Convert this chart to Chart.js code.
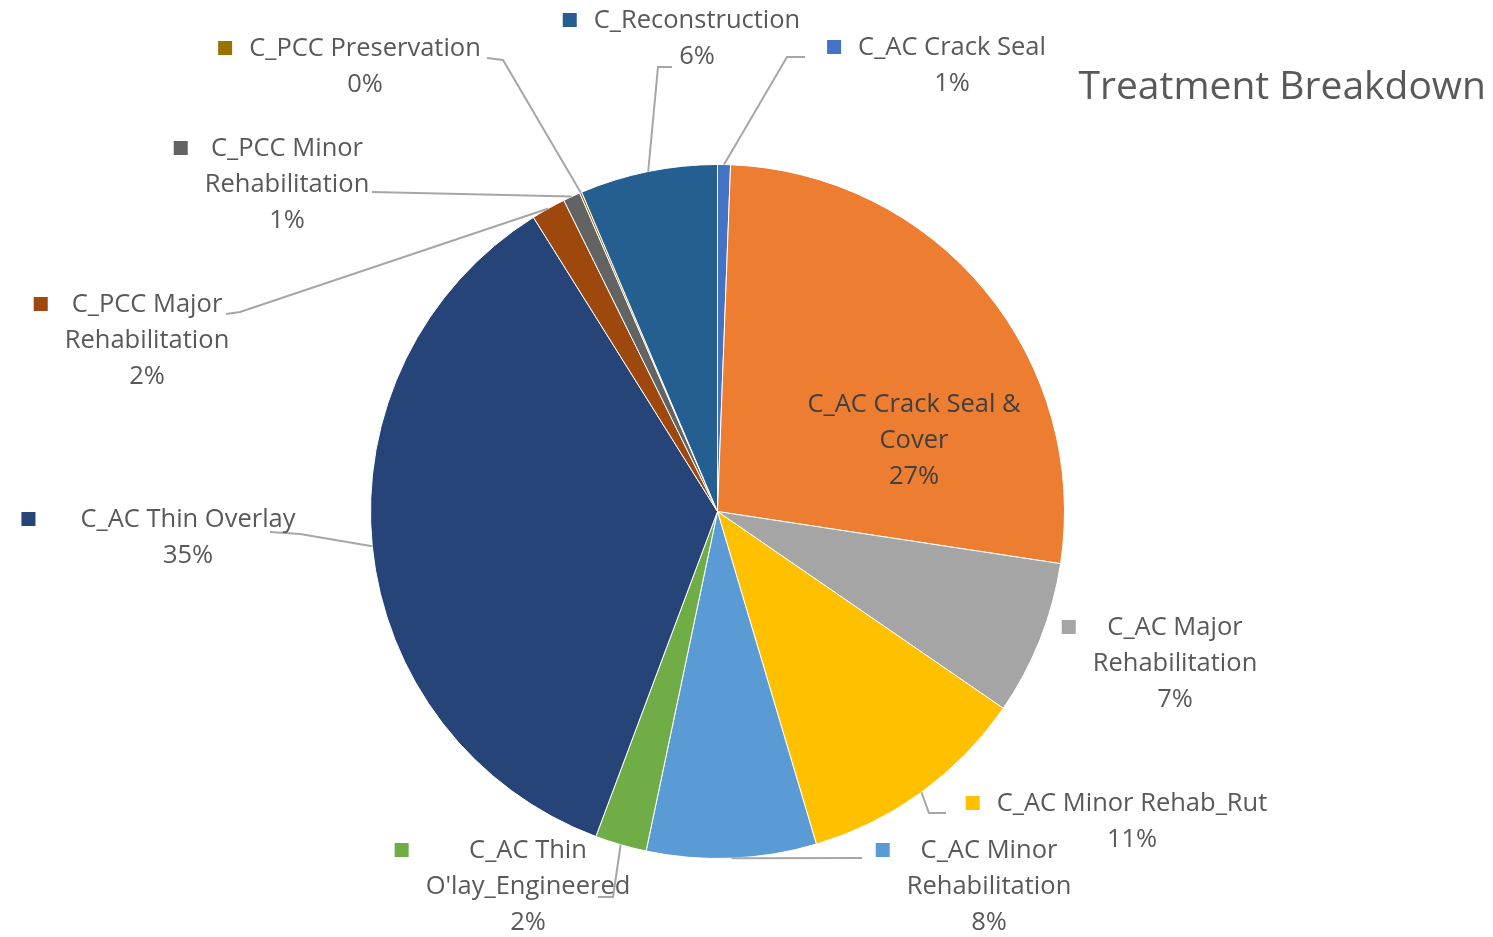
<!DOCTYPE html>
<html>
<head>
<meta charset="utf-8">
<script src="https://cdn.jsdelivr.net/npm/chart.js@4"></script>
<style>
  html, body { margin: 0; padding: 0; background: #fff; }
  #wrap { position: relative; width: 1493px; height: 937px; }
</style>
</head>
<body>
<div id="wrap"><canvas id="chart"></canvas></div>
<script>
// values (share of total, %)
const categories = [
  'C_AC Crack Seal',
  'C_AC Crack Seal & Cover',
  'C_AC Major Rehabilitation',
  'C_AC Minor Rehab_Rut',
  'C_AC Minor Rehabilitation',
  "C_AC Thin O'lay_Engineered",
  'C_AC Thin Overlay',
  'C_PCC Major Rehabilitation',
  'C_PCC Minor Rehabilitation',
  'C_PCC Preservation',
  'C_Reconstruction',
];
const shares = [0.6, 26.8, 7.2, 10.8, 7.9, 2.4, 35.4, 1.6, 0.8, 0.1, 6.4];
const title = 'Treatment Breakdown';

const colors = [
  '#4472C4', '#ED7D31', '#A5A5A5', '#FFC000', '#5B9BD5', '#70AD47',
  '#264478', '#9E480E', '#636363', '#997300', '#255E91',
];

// label placement: centre x, first line y, words on first line, leader bends
const labelLayout = [
  { cx: 952, y: 48, wrap: 3, leader: [[805, 57], [787, 57]] },
  { cx: 914, y: 405, wrap: 4, inside: true },
  { cx: 1175, y: 628, wrap: 2 },
  { cx: 1132, y: 804, wrap: 4, leader: [[946, 813], [929, 813]] },
  { cx: 989, y: 851, wrap: 2, leader: [[862, 858]] },
  { cx: 528, y: 851, wrap: 2, leader: [[598, 897], [613, 897]] },
  { cx: 188, y: 520, wrap: 4, gap: 45, leader: [[270, 532], [300, 534]] },
  { cx: 147, y: 305, wrap: 2, leader: [[226, 314], [240, 312]] },
  { cx: 287, y: 149, wrap: 2, leader: [[372, 192]] },
  { cx: 365, y: 49, wrap: 2, leader: [[487, 58], [503, 60]] },
  { cx: 697, y: 21, wrap: 1, leader: [[672, 67], [658, 67]] },
];

const FONT = '"Open Sans", "Noto Sans", sans-serif';
const LINE_H = 36;

function wrapName(name, n) {
  const words = name.split(' ');
  const first = words.slice(0, n).join(' ');
  const rest = words.slice(n).join(' ');
  return rest ? [first, rest] : [first];
}

const labelPlugin = {
  id: 'excelLabels',
  afterDatasetsDraw(chart) {
    const ctx = chart.ctx;
    const meta = chart.getDatasetMeta(0);
    const total = shares.reduce((a, b) => a + b, 0);
    ctx.save();

    // leader lines
    ctx.strokeStyle = '#A6A6A6';
    ctx.lineWidth = 2;
    meta.data.forEach((arc, i) => {
      const lay = labelLayout[i];
      if (!lay.leader) return;
      const p = arc.getProps(['x', 'y', 'startAngle', 'endAngle', 'outerRadius'], true);
      const mid = (p.startAngle + p.endAngle) / 2;
      const ex = p.x + Math.cos(mid) * p.outerRadius;
      const ey = p.y + Math.sin(mid) * p.outerRadius;
      ctx.beginPath();
      lay.leader.forEach(([x, y], k) => (k ? ctx.lineTo(x, y) : ctx.moveTo(x, y)));
      ctx.lineTo(ex, ey);
      ctx.stroke();
    });

    // label text
    ctx.font = '25.5px ' + FONT;
    ctx.textAlign = 'center';
    ctx.textBaseline = 'middle';
    categories.forEach((name, i) => {
      const lay = labelLayout[i];
      const pct = Math.round((shares[i] / total) * 100) + '%';
      const lines = wrapName(name, lay.wrap).concat([pct]);
      ctx.fillStyle = lay.inside ? '#404040' : '#595959';
      let widest = 0;
      lines.forEach((t, k) => {
        ctx.fillText(t, lay.cx, lay.y + k * LINE_H);
        widest = Math.max(widest, ctx.measureText(t).width);
      });
      if (!lay.inside) {
        const gap = lay.gap || 17;
        ctx.fillStyle = colors[i];
        ctx.fillRect(lay.cx - widest / 2 - gap - 14, lay.y - 8, 14, 14);
      }
    });

    // title
    ctx.font = '39px ' + FONT;
    ctx.textAlign = 'right';
    ctx.fillStyle = '#595959';
    ctx.fillText(title, 1486, 88);
    ctx.restore();
  },
};

new Chart(document.getElementById('chart').getContext('2d'), {
  type: 'pie',
  data: {
    labels: categories,
    datasets: [
      {
        data: shares,
        backgroundColor: colors,
        borderColor: '#ffffff',
        borderWidth: 1,
      },
    ],
  },
  options: {
    animation: false,
    responsive: true,
    maintainAspectRatio: false,
    layout: {
      padding: { top: 164, bottom: 78, left: 370, right: 428 },
    },
    plugins: {
      legend: { display: false },
      tooltip: { enabled: false },
      title: { display: false },
    },
  },
  plugins: [labelPlugin],
});
</script>
</body>
</html>
